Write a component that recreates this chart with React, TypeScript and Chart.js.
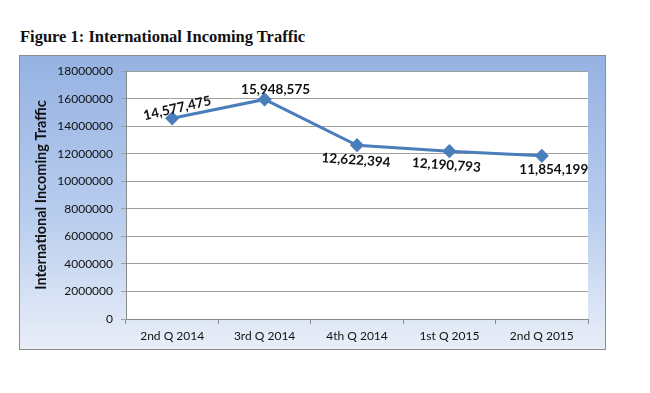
import React, { useEffect, useRef } from "react";
import { Chart, registerables } from "chart.js";

Chart.register(...registerables);

const categories = ["2nd Q 2014", "3rd Q 2014", "4th Q 2014", "1st Q 2015", "2nd Q 2015"];
const traffic = [14577475, 15948575, 12622394, 12190793, 11854199];
const yMin = 0;
const yMax = 18000000;
const yStep = 2000000;

// label placement style (offset from point, rotation in degrees)
const labelDx = [5, 11, -1, -3, 12];
const labelDy = [-10, -10, 15, 14, 14];
const labelRot = [-13, 0, 4, 4, 0];

const fmt = (n: number) => n.toString().replace(/\B(?=(\d{3})+(?!\d))/g, ",");

const plotBg = {
  id: "plotBg",
  beforeDraw(chart: any) {
    const { ctx, chartArea } = chart;
    ctx.save();
    ctx.fillStyle = "#ffffff";
    ctx.fillRect(chartArea.left, chartArea.top, chartArea.right - chartArea.left, chartArea.bottom - chartArea.top);
    ctx.restore();
  },
};

const valueLabels = {
  id: "valueLabels",
  afterDatasetsDraw(chart: any) {
    const { ctx } = chart;
    const meta = chart.getDatasetMeta(0);
    const data = chart.data.datasets[0].data as number[];
    ctx.save();
    ctx.font = "bold 13.5px Lato";
    ctx.fillStyle = "#111111";
    ctx.textAlign = "center";
    ctx.textBaseline = "middle";
    meta.data.forEach((pt: any, i: number) => {
      ctx.save();
      ctx.translate(pt.x + labelDx[i], pt.y + labelDy[i]);
      ctx.rotate((labelRot[i] * Math.PI) / 180);
      ctx.fillText(fmt(data[i]), 0, 0);
      ctx.restore();
    });
    ctx.restore();
  },
};

export default function App() {
  const ref = useRef<HTMLCanvasElement | null>(null);
  useEffect(() => {
    if (!ref.current) return;
    const chart = new Chart(ref.current, {
      type: "line",
      data: {
        labels: categories,
        datasets: [
          {
            data: traffic,
            borderColor: "#4a7ebb",
            backgroundColor: "#4a7ebb",
            borderWidth: 3,
            pointStyle: "rectRot",
            pointRadius: 5,
            pointBackgroundColor: "#4a7ebb",
            pointBorderColor: "#4a7ebb",
            tension: 0,
          },
        ],
      },
      options: {
        animation: false,
        responsive: false,
        layout: { padding: { left: 0, top: 11, right: 17, bottom: 0 } },
        plugins: { legend: { display: false }, tooltip: { enabled: false }, title: { display: false } },
        scales: {
          x: {
            type: "category",
            offset: true,
            grid: { offset: true, drawOnChartArea: false, drawTicks: true, tickLength: 5, color: "#8a8a8a" },
            border: { color: "#8a8a8a" },
            ticks: { color: "#111111", font: { family: "Lato", size: 12 }, padding: 5, maxRotation: 0 },
            afterFit: (s: any) => { s.width = s.width; s.height = 30; },
          },
          y: {
            min: yMin,
            max: yMax,
            grid: { color: "#a0a0a0", tickLength: 5, drawTicks: true },
            border: { color: "#8a8a8a" },
            ticks: {
              stepSize: yStep,
              color: "#111111",
              font: { family: "Lato", size: 12 },
              padding: 8,
              callback: (v: any) => String(v),
            },
            title: {
              display: true,
              text: "International Incoming Traffic",
              color: "#111111",
              font: { family: "Lato", size: 14.5, weight: "bold" },
              padding: { top: 13, bottom: 0 },
            },
            afterFit: (s: any) => { s.width = 106; },
          },
        },
      },
      plugins: [plotBg, valueLabels],
    });
    return () => chart.destroy();
  }, []);

  return (
    <div style={{ position: "relative", width: 634, height: 377 }}>
      <div
        style={{
          position: "absolute",
          left: 12,
          top: 19,
          fontFamily: "'Liberation Serif', 'Times New Roman', serif",
          fontWeight: "bold",
          fontSize: 16.5,
          lineHeight: "19px",
          color: "#111",
          whiteSpace: "nowrap",
        }}
      >
        Figure 1: International Incoming Traffic
      </div>
      <div
        style={{
          position: "absolute",
          left: 11,
          top: 47,
          width: 587,
          height: 295,
          boxSizing: "border-box",
          border: "1px solid #8c8c8c",
          background: "linear-gradient(to bottom, #95b2e2 0%, #b9cdee 55%, #e9eef8 100%)",
        }}
      >
        <canvas ref={ref} width={585} height={293} style={{ display: "block", width: 585, height: 293 }} />
      </div>
    </div>
  );
}
